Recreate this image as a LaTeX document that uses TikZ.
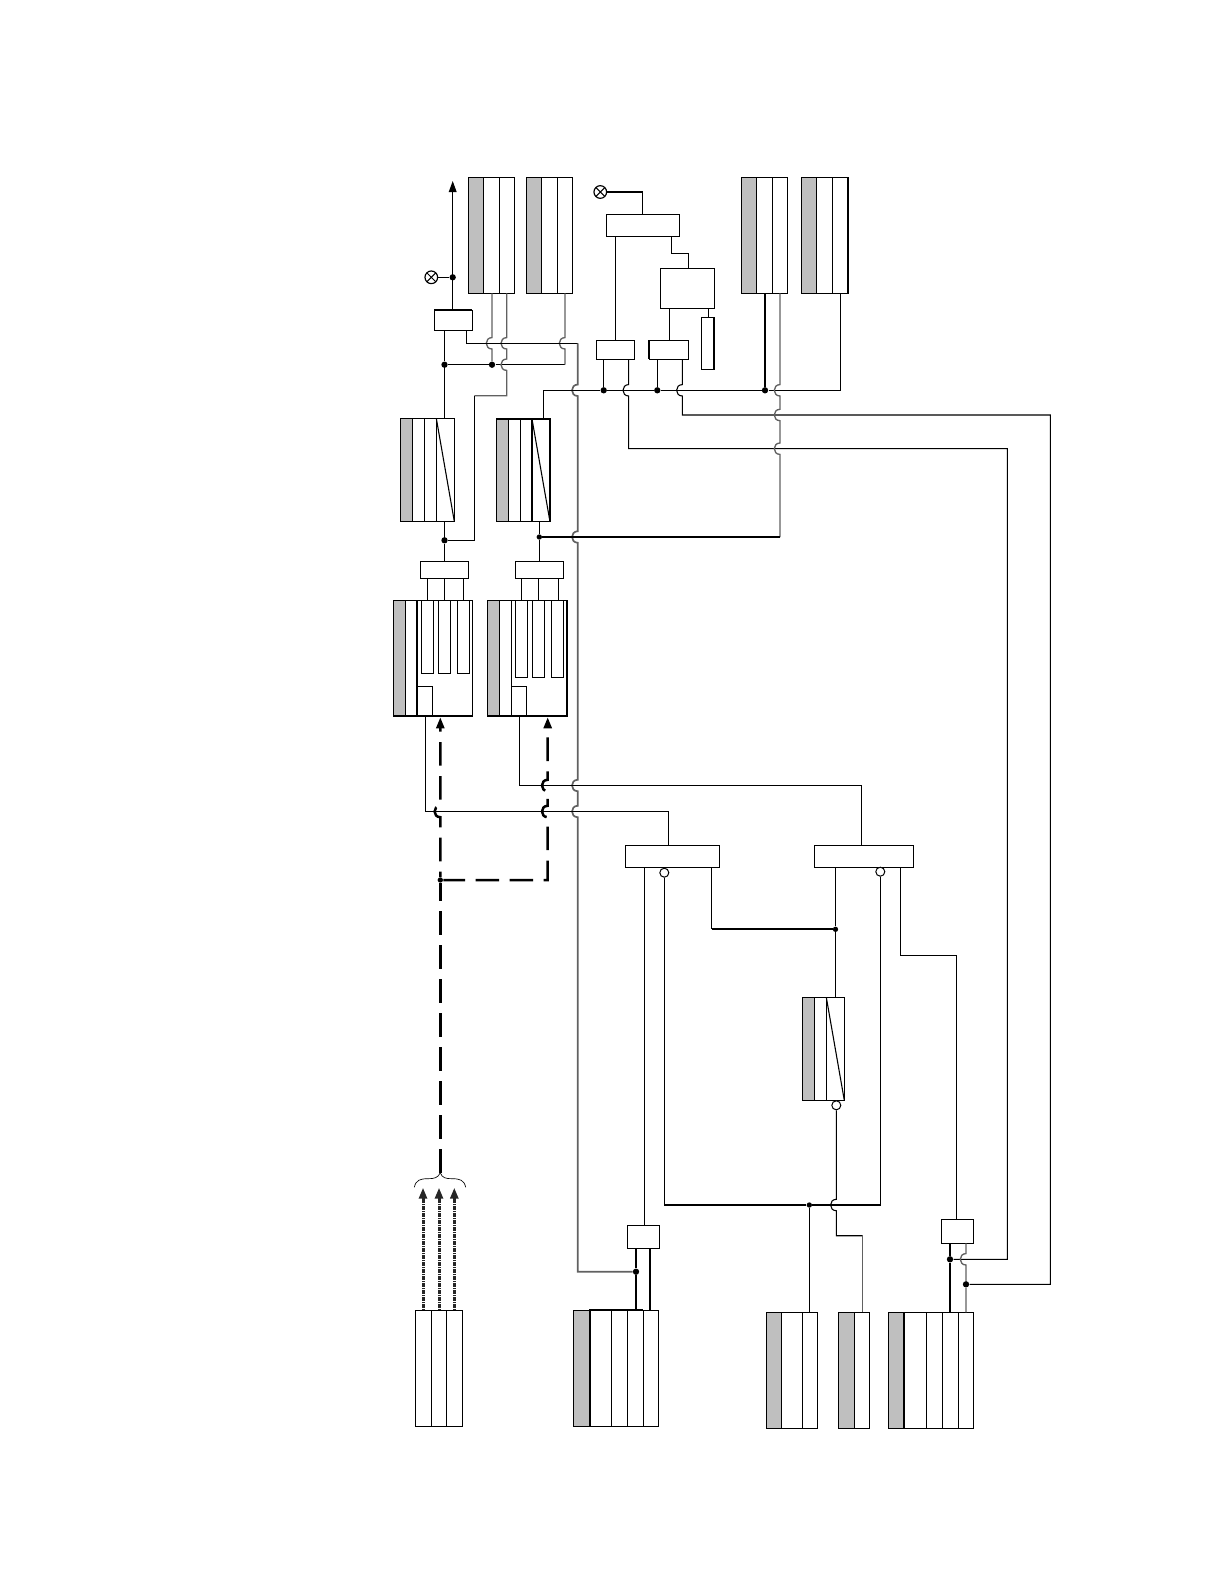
\documentclass[tikz,border=0pt]{standalone}
\usepackage{xcolor}
\usetikzlibrary{arrows.meta,fit}
\definecolor{colgray}{gray}{0.75}
\definecolor{wiregray}{gray}{0.38}
\tikzset{
  wire/.style={line width=0.65pt,black},
  greywire/.style={line width=0.8pt,wiregray},
  longwire/.style={line width=1pt,wiregray},
  heavywire/.style={line width=1.2pt,black},
  unitbox/.style={draw,line width=0.65pt,inner sep=0pt,outer sep=0pt},
  wiredot/.style={circle,fill=black,inner sep=0pt,minimum size=3.8pt},
  ring/.style={circle,draw,fill=white,line width=0.6pt,inner sep=0pt,minimum size=5.4pt},
  lamp/.style={circle,draw,fill=white,line width=0.7pt,inner sep=0pt,minimum size=7.6pt,
    path picture={\draw[line width=0.6pt] (path picture bounding box.north west) -- (path picture bounding box.south east)
      (path picture bounding box.north east) -- (path picture bounding box.south west);}},
  dashline/.style={line width=1.5pt,black,dash pattern=on 14.2pt off 6.2pt},
  dotline/.style={line width=1.8pt,black!85,dash pattern=on 1pt off 0.4pt,-{Triangle[length=6.6pt,width=4.8pt]}},
}
% name, left, right, top, bottom, end of grey column, other dividers
\newcommand{\colbox}[7]{%
  \fill[colgray] (#2,#4) rectangle (#6,#5);
  \node[unitbox,fit={(#2,#4) (#3,#5)}] (#1) {};
  \foreach \xd in {#6,#7} \draw[wire] (\xd,#4) -- (\xd,#5);
}
\newcommand{\plainbox}[5]{\node[unitbox,fit={(#2,#3) (#4,#5)}] (#1) {};}
% a vertical wire going down steps round a crossing
\newcommand{\hop}[2]{-- (#1,#2-5.7) .. controls (#1-7.6,#2-5.7) and (#1-7.6,#2+5.7) .. (#1,#2+5.7)}
\begin{document}
\begin{tikzpicture}[x=0.6pt,y=-0.6pt]
  \useasboundingbox (0,0) rectangle (1224,1584);

  % Top columns
  \colbox{topA}{468.3}{514.3}{177.3}{293.3}{483.3}{499.3}
  \colbox{topB}{526.3}{572.3}{177.3}{293.3}{541.3}{557.3}
  \colbox{topC}{741.3}{787.3}{177.3}{293.3}{756.3}{772.3}
  \colbox{topD}{801.3}{848.3}{177.3}{293.3}{816.3}{832.3}
  \draw[heavywire] (topD.north east) -- (topD.south east);

  % Small boxes at the top
  \plainbox{relay}{434.3}{310.3}{472.3}{330.3}
  \plainbox{ctrl}{606.3}{214.3}{679.3}{236.3}
  \plainbox{logic}{660.3}{268.3}{714.3}{308.3}
  \plainbox{pairC}{596.3}{340.3}{634.3}{359.3}
  \plainbox{pairD}{649.3}{340.3}{688.3}{359.3}
  \plainbox{strip}{701.3}{317.3}{714.3}{369.3}
  \draw[heavywire] (relay.north west) -- (relay.north east);
  \draw[heavywire] (pairD.north west) -- (pairD.south west);
  \draw[heavywire] (strip.north east) -- (strip.south east);

  % Ramp columns
  \colbox{diagA}{400.3}{454.3}{418.3}{521.3}{412.3}{424.3,436.3}
  \colbox{diagB}{496.3}{550}{419}{521.8}{508.3}{520.3,532}
  \colbox{diagC}{802.3}{844.3}{997.3}{1100.3}{814.3}{826.3}
  \draw[wire] (diagA.north west -| 436.3,0) -- (diagA.south east);
  \draw[wire] (diagB.north west -| 532,0) -- (diagB.south east);
  \draw[wire] (diagC.north west -| 826.3,0) -- (diagC.south east);

  % Slotted units
  \plainbox{blockA}{420.3}{561.3}{468.7}{578.7}
  \plainbox{blockB}{515.3}{561.3}{563.7}{578.7}
  \colbox{unitA}{393.3}{472.7}{600.3}{716}{405.3}{416.7}
  \colbox{unitB}{487.3}{567.3}{600.3}{716}{499.3}{511.3}
  \foreach \xa/\xb in {421.3/433.3,438.3/450.7,457.3/469.3}
    \draw[wire] (\xa,600.3) rectangle (\xb,673.3);
  \foreach \xa/\xb in {515.3/527.3,532.3/544.7,551.3/563.3}
    \draw[wire] (\xa,600.3) rectangle (\xb,677.3);
  \draw[wire] (416.7,686.3) rectangle (432.3,716);
  \draw[wire] (511.3,686.3) rectangle (526.3,716);
  \draw[heavywire] (416.7,600.3) -- (416.7,716);
  \draw[heavywire] (unitB.north east) -- (unitB.south east);

  % Lower boxes
  \plainbox{mergeA}{625.3}{845.3}{719.3}{867.3}
  \plainbox{mergeB}{814.3}{845.3}{913.7}{867.3}
  \plainbox{pinH}{627.3}{1225.3}{659.3}{1248.7}
  \plainbox{pinJ}{941.3}{1219.3}{973.3}{1243.3}

  % Bottom columns
  \plainbox{baseS}{415.3}{1310.3}{462.3}{1426.3}
  \foreach \xd in {431.3,446.3} \draw[wire] (\xd,1310.3) -- (\xd,1426.3);
  \colbox{baseT}{573.3}{658.7}{1310.3}{1426.3}{590}{611.3,627.3,643.3}
  \colbox{baseU}{766.3}{817.3}{1312.3}{1428.3}{781.3}{802.3}
  \colbox{baseV}{838.3}{869.3}{1312.3}{1428.3}{854.3}{854.3}
  \colbox{baseW}{888.3}{973.3}{1312.3}{1428.3}{904}{926.3,942.3,958.3}
  \draw[heavywire] (590,1426.3) -- (590,1309.8) -- (643.3,1309.8);
  \draw[heavywire] (904,1312.3) -- (904,1428.3);

  % Junctions and signs
  \node[lamp] (lampA) at (431.3,277.3) {};
  \node[lamp] (lampB) at (600.3,192) {};
  \node[wiredot] (dotLamp) at (452.7,277.3) {};
  \node[wiredot] (dotA) at (444.5,364.7) {};
  \node[wiredot] (dotB) at (492,364.7) {};
  \node[wiredot] (dotC) at (603.7,390.3) {};
  \node[wiredot] (dotD) at (657.3,390.3) {};
  \node[wiredot] (dotT) at (765,390.3) {};
  \node[wiredot] (dotE) at (444.5,540.3) {};
  \node[wiredot,minimum size=3.2pt] (dotF) at (539.3,537) {};
  \node[wiredot,minimum size=3.2pt] (dotM) at (835.5,929.3) {};
  \node[wiredot,minimum size=3.2pt] (dotN) at (809.3,1205) {};
  \node[wiredot] (dotH) at (636,1271.7) {};
  \node[wiredot] (dotJ) at (950,1259.3) {};
  \node[wiredot] (dotK) at (966,1284.3) {};
  \node[wiredot,minimum size=3.2pt] (dotDash) at (440.3,880) {};
  \node[ring] (ringA) at (664.3,872.7) {};
  \node[ring] (ringB) at (880.3,871.7) {};
  \node[ring] (ringC) at (836.3,1105.3) {};

  % Free points
  \coordinate (tipOut) at (452.7,181);
  \coordinate (busTurn) at (577.7,343.3);
  \coordinate (turnB) at (565,364.7);
  \coordinate (turnM) at (711.7,929.3);
  \coordinate (tipA) at (440.3,717.3);
  \coordinate (tipB) at (547.7,717.3);
  \coordinate (braceTop) at (440.3,1172.7);
  \coordinate (braceL) at (414.3,1187.3);
  \coordinate (braceR) at (465.7,1187.3);

  % Output arrow and first lamp
  \draw[wire,-{Triangle[length=6.6pt,width=4.6pt]}] (452.7,0 |- relay.north) -- (tipOut);
  \draw[wire] (lampA) -- (dotLamp);
  \draw[wire] (444.5,0 |- relay.south) -- (dotA) -- (444.5,0 |- diagA.north);
  \draw[wire] (444.5,0 |- diagA.south) -- (dotE) -- (444.5,0 |- blockA.north);
  \draw[wire] (dotA) -- (dotB) -- (turnB);
  \draw[greywire] (565,0 |- topB.south) \hop{565}{343.3} -- (turnB);
  \draw[greywire] (492,0 |- topA.south) \hop{492}{343.3} -- (dotB);
  \draw[greywire] (506.7,0 |- topA.south) \hop{506.7}{343.3} \hop{506.7}{364.7} -- (506.7,395.7) -- (474.3,395.7);
  \draw[wire] (474.3,395.7) -- (474.3,540.3) -- (dotE);
  \draw[wire] (466.7,0 |- relay.south) |- (busTurn);
  \draw[longwire] (busTurn) \hop{577.7}{390.3} \hop{577.7}{537} \hop{577.7}{785.5} \hop{577.7}{811.5} -- (577.7,1271.7) -- (dotH);

  % Main bus
  \draw[wire] (543.7,0 |- diagB.north) |- (dotC) -- (dotD) -- (dotT) -- (840.3,390.3) -- (840.3,0 |- topD.south);
  \draw[wire] (603.7,0 |- pairC.south) -- (dotC);
  \draw[wire] (657.3,0 |- pairD.south) -- (dotD);
  \draw[heavywire] (765,0 |- topC.south) -- (dotT);
  \draw[wire] (628.7,0 |- pairC.south) \hop{628.7}{390.3} -- (628.7,448.7) -- (1007.3,448.7) -- (1007.3,1259.3) -- (dotJ);
  \draw[wire] (682.3,0 |- pairD.south) \hop{682.3}{390.3} -- (682.3,415) -- (1050.3,415) -- (1050.3,1284.3) -- (dotK);
  \draw[greywire] (780,0 |- topC.south) \hop{780}{390.3} \hop{780}{415} \hop{780}{448.7} -- (780,537);
  \draw[wire] (780,537) -- (dotF);
  \draw[wire] (539.3,0 |- diagB.south) -- (dotF) -- (539.3,0 |- blockB.north);

  % Second lamp and its boxes
  \draw[wire] (lampB) -| (642.3,0 |- ctrl.north);
  \draw[wire] (615.3,0 |- ctrl.south) -- (615.3,0 |- pairC.north);
  \draw[wire] (671.7,0 |- ctrl.south) |- (688.3,253.3) -- (688.3,0 |- logic.north);
  \draw[wire] (669.3,0 |- logic.south) -- (669.3,0 |- pairD.north);
  \draw[wire] (708.3,0 |- logic.south) -- (708.3,0 |- strip.north);

  % Blocks to units
  \foreach \xw in {427.3,444.3,463.3}
    \draw[wire] (\xw,0 |- blockA.south) -- (\xw,0 |- unitA.north);
  \foreach \xw in {521.3,538.3,558.3}
    \draw[wire] (\xw,0 |- blockB.south) -- (\xw,0 |- unitB.north);

  % Units to merge boxes
  \draw[wire] (425.3,0 |- unitA.south) |- (668.3,811.5) -- (668.3,0 |- mergeA.north);
  \draw[wire] (519.3,0 |- unitB.south) |- (861.7,785.5) -- (861.7,0 |- mergeB.north);

  % Dashed feed
  \draw[dashline,dash phase=11.8pt,{Triangle[length=6.6pt,width=4.8pt]}-] (tipA) \hop{440.3}{811.5} -- (dotDash);
  \draw[dashline] (braceTop) -- (dotDash);
  \draw[dashline,dash phase=14.6pt,{Triangle[length=6.6pt,width=4.8pt]}-] (tipB) \hop{547.7}{785.5} \hop{547.7}{811.5} -- (547.7,880) -- (dotDash);
  \draw[line width=0.4pt] (braceL) .. controls (416,1180) and (420,1178.7) .. (428,1178.7) .. controls (434,1178.7) and (438,1178) .. (braceTop);
  \draw[line width=0.4pt] (braceR) .. controls (464,1180) and (460,1178.7) .. (452,1178.7) .. controls (446,1178.7) and (442,1178) .. (braceTop);
  \foreach \xw in {423,439,454.3}
    \draw[dotline] (\xw,0 |- baseS.north) -- (\xw,1187.7);

  % Merge box outputs
  \draw[wire] (644.3,0 |- mergeA.south) -- (644.3,0 |- pinH.north);
  \draw[wire] (ringA) -- (664.3,1205) -- (dotN) -- (880.3,1205) -- (ringB);
  \draw[wire] (711.7,0 |- mergeA.south) -- (turnM);
  \draw[heavywire] (turnM) -- (dotM);
  \draw[wire] (835.5,0 |- mergeB.south) -- (dotM) -- (835.5,0 |- diagC.north);
  \draw[wire] (ringC) \hop{836.3}{1205} -- (836.3,1235.7) -- (862.7,1235.7);
  \draw[greywire] (862.7,1235.7) -- (862.7,0 |- baseV.north);
  \draw[wire] (900.3,0 |- mergeB.south) |- (956.3,955.3) -- (956.3,0 |- pinJ.north);
  \draw[wire] (dotN) -- (809.3,0 |- baseU.north);

  % Small boxes to bottom columns
  \draw[heavywire] (636,0 |- pinH.south) -- (dotH) -- (636,0 |- baseT.north);
  \draw[heavywire] (650,0 |- pinH.south) -- (650,0 |- baseT.north);
  \draw[wire] (950,0 |- pinJ.south) -- (dotJ) -- (950,0 |- baseW.north);
  \draw[greywire] (966,0 |- pinJ.south) \hop{966}{1259.3} -- (dotK) -- (966,0 |- baseW.north);
\end{tikzpicture}
\end{document}
